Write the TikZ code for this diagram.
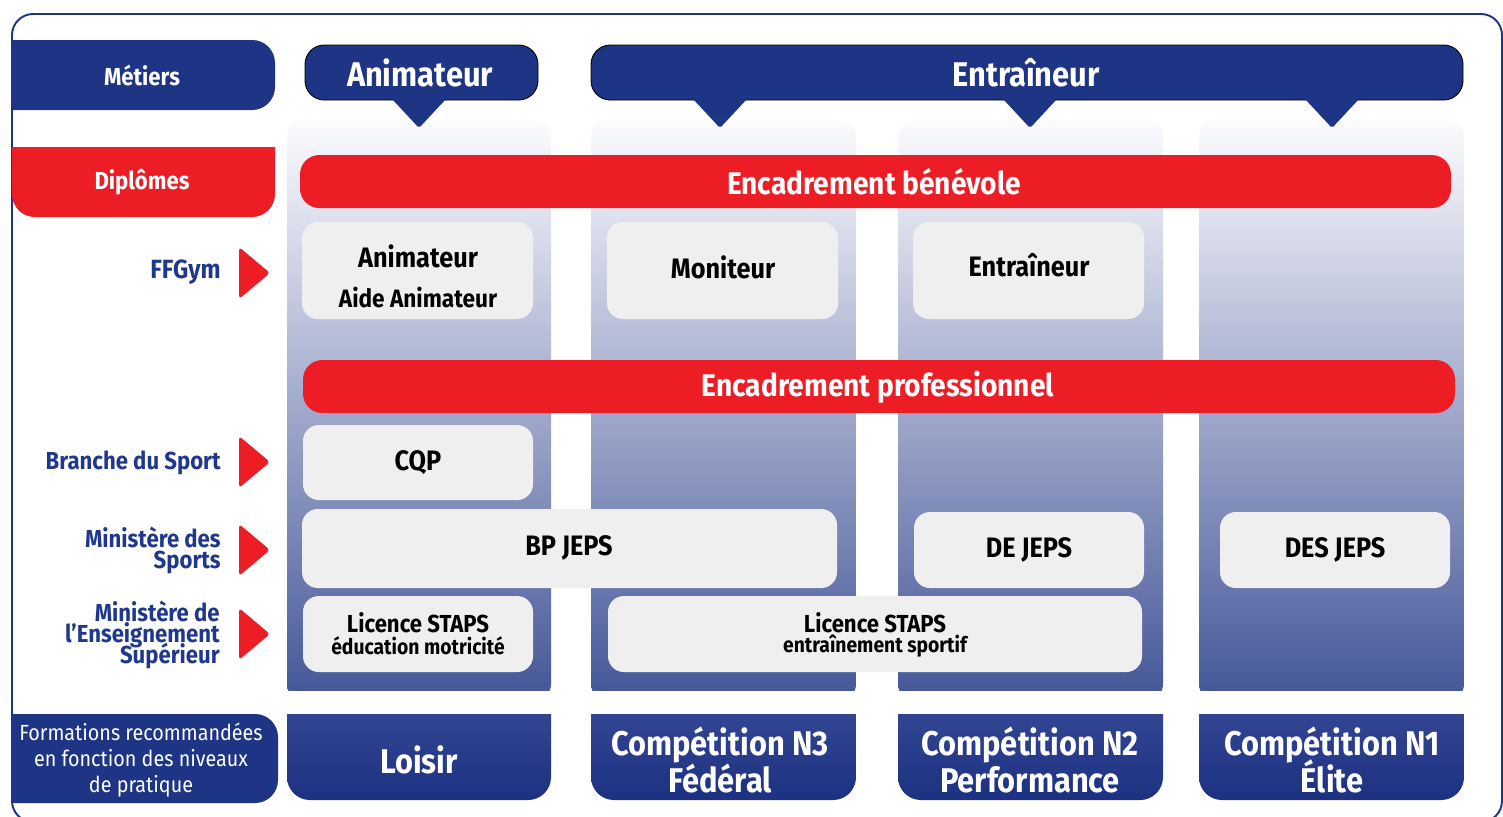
\documentclass[tikz,border=0pt]{standalone}
\usepackage{fontspec}
\setmainfont{Fira Sans}[FakeStretch=0.9]
\usetikzlibrary{fit}

\newcommand{\fsz}[2]{\fontsize{#1}{#2}\lineskiplimit=-30pt\selectfont}

\definecolor{navy}{RGB}{30,52,132}
\definecolor{labelblue}{RGB}{32,56,140}
\definecolor{gymred}{RGB}{237,29,37}
\definecolor{boxgrey}{RGB}{239,239,239}
\definecolor{coltop}{RGB}{252,252,254}
\definecolor{colmid}{RGB}{168,178,210}
\definecolor{colbot}{RGB}{68,86,152}
\definecolor{lvltop}{RGB}{56,75,152}
\definecolor{lvlbot}{RGB}{28,49,129}

\tikzset{
  header/.style={fill=navy, draw=black, line width=0.5pt, rounded corners=11pt, inner sep=0pt},
  headtext/.style={text=white, inner sep=0pt, font=\bfseries\fsz{19.5}{22}},
  redbar/.style={fill=gymred, rounded corners=11pt, inner sep=0pt},
  bartext/.style={text=white, inner sep=0pt, font=\bfseries\fsz{17.8}{20}},
  diploma/.style={fill=boxgrey, rounded corners=9pt, inner sep=0pt},
  diptext/.style={align=center, inner sep=0pt, font=\bfseries\fsz{16}{18}},
  sidelabel/.style={anchor=east, inner sep=0pt, align=right, text=labelblue,
    font=\bfseries\fsz{14}{12}},
  sidehead/.style={text=white, inner sep=0pt, font=\bfseries\fsz{14}{15}},
  level/.style={text=white, align=center, inner sep=0pt, font=\bfseries\fsz{19.5}{21.5}},
}

\begin{document}
\begin{tikzpicture}[x=0.02cm, y=-0.02cm]
  \useasboundingbox (0,0) rectangle (1503,816);
  \clip (0,0) rectangle (1503,816);

  % cadre
  \draw[navy, line width=1.1pt, rounded corners=12pt] (12,14) rectangle (1502,822);

  % colonnes
  \foreach \xa/\xb in {287/551, 591/856, 898/1163, 1199/1464} {
    \begin{scope}
      \clip (\xa,100) rectangle (\xb,690);
      \shade[top color=coltop, middle color=colmid, bottom color=colbot,
        rounded corners=9pt] (\xa,120) rectangle (\xb,700);
    \end{scope}
    \begin{scope}
      \clip (\xa,714) rectangle (\xb,816);
      \shade[top color=lvltop, bottom color=lvlbot,
        rounded corners=13pt] (\xa,690) rectangle (\xb,800);
    \end{scope}
  }

  % colonne de gauche
  \begin{scope}
    \clip (12,0) rectangle (300,816);
    \fill[navy, rounded corners=13pt] (-20,40) rectangle (275,110);
    \fill[navy, rounded corners=13pt] (-20,714) rectangle (278,803);
  \end{scope}
  \begin{scope}
    \clip (0,147) rectangle (300,300);
    \fill[gymred, rounded corners=13pt] (12,120) rectangle (275,217);
  \end{scope}
  \node[sidehead] (metiers) at (142,75) {Métiers};
  \node[sidehead] (diplomes) at (142,182) {Diplômes};
  \node[text=white, align=center, inner sep=0pt, font=\fsz{12.5}{15}] (formations) at (141,760)
    {Formations recommandées\\en fonction des niveaux\\de pratique};

  % metiers
  \node[header, fit={(305,45) (538,100)}] (animateur) {};
  \node[header, fit={(591,45) (1463,100)}] (entraineur) {};
  \node[headtext] (animateur-t) at (420,73) {Animateur};
  \node[headtext] (entraineur-t) at (1026,73) {Entraîneur};
  \foreach \cx in {419,720,1030,1332}
    \fill[navy, rounded corners=1pt] (\cx-27,99) -- (\cx+27,99) -- (\cx,128) -- cycle;

  % encadrement
  \node[redbar, fit={(300,155) (1451,208)}] (benevole) {};
  \node[redbar, fit={(303,360) (1455,413)}] (pro) {};
  \node[bartext] (benevole-t) at (874,182) {Encadrement bénévole};
  \node[bartext] (pro-t) at (878,387) {Encadrement professionnel};

  % diplomes
  \node[diploma, fit={(302,222) (533,319)}] (dipanim) {};
  \node[diploma, fit={(607,222) (838,319)}] (moniteur) {};
  \node[diploma, fit={(913,222) (1144,319)}] (dipentr) {};
  \node[diploma, fit={(303,425) (533,500)}] (cqp) {};
  \node[diploma, fit={(302,509) (837,588)}] (bpjeps) {};
  \node[diploma, fit={(914,512) (1144,588)}] (dejeps) {};
  \node[diploma, fit={(1220,512) (1450,588)}] (desjeps) {};
  \node[diploma, fit={(303,596) (533,672)}] (licedu) {};
  \node[diploma, fit={(608,596) (1142,672)}] (licentr) {};

  \node[diptext] (dipanim-a) at (418,256) {Animateur};
  \node[diptext, font=\bfseries\fsz{14.3}{16}] (dipanim-b) at (418,298) {Aide Animateur};
  \node[diptext] (moniteur-t) at (723,267) {Moniteur};
  \node[diptext] (dipentr-t) at (1029,265) {Entraîneur};
  \node[diptext] (cqp-t) at (418,463) {CQP};
  \node[diptext] (bpjeps-t) at (569,548) {BP JEPS};
  \node[diptext] (dejeps-t) at (1029,550) {DE JEPS};
  \node[diptext] (desjeps-t) at (1335,550) {DES JEPS};
  \node[diptext, font=\bfseries\fsz{14}{12.5}] (licedu-a) at (418,623) {Licence STAPS};
  \node[diptext, font=\bfseries\fsz{12.2}{12.5}] (licedu-b) at (418,646) {éducation motricité};
  \node[diptext, font=\bfseries\fsz{14}{12.5}] (licentr-a) at (875,623) {Licence STAPS};
  \node[diptext, font=\bfseries\fsz{12.2}{12.5}] (licentr-b) at (875,646) {entraînement sportif};

  % organismes
  \node[sidelabel, font=\bfseries\fsz{15}{12}] (ffgym) at (221,272) {FFGym};
  \node[sidelabel] (branche) at (221,463) {Branche du Sport};
  \node[sidelabel] (minsport) at (221,550) {Ministère des\\Sports};
  \node[sidelabel] (minsup) at (220,635) {Ministère de\\l’Enseignement\\Supérieur};
  \foreach \ty in {273,462,550,634}
    \fill[gymred, rounded corners=2pt] (239,\ty-26) -- (270,\ty) -- (239,\ty+26) -- cycle;

  % niveaux de pratique
  \node[level] (loisir) at (419,760) {Loisir};
  \node[level] (nthree) at (720,760) {Compétition N3\\Fédéral};
  \node[level] (ntwo) at (1030,760) {Compétition N2\\Performance};
  \node[level] (none) at (1332,760) {Compétition N1\\Élite};
\end{tikzpicture}
\end{document}
